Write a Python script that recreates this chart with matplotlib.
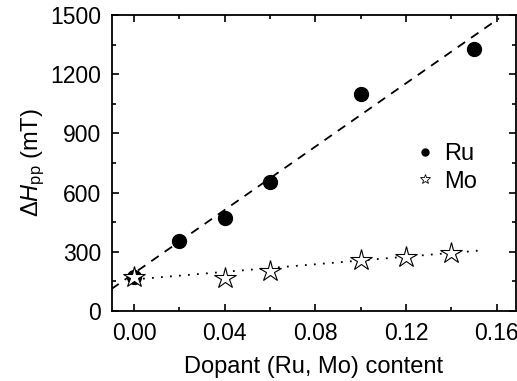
import matplotlib
matplotlib.use("Agg")
from matplotlib import pyplot as plt
from matplotlib.ticker import MultipleLocator

# data
ru_x = [0.0, 0.02, 0.04, 0.06, 0.10, 0.15]
ru_y = [170, 355, 470, 655, 1100, 1330]
mo_x = [0.0, 0.04, 0.06, 0.10, 0.12, 0.14]
mo_y = [170, 165, 205, 260, 275, 295]

# linear fits as drawn
ru_fit_x = [-0.01, 0.161]
ru_fit_y = [111, 1483]
mo_fit_x = [0.0, 0.152]
mo_fit_y = [160, 306]

plt.rcParams["font.family"] = ["Liberation Sans", "DejaVu Sans"]
plt.rcParams["mathtext.fontset"] = "custom"
plt.rcParams["mathtext.rm"] = "Liberation Sans"
plt.rcParams["mathtext.it"] = "Liberation Sans:italic"

fig = plt.figure(figsize=(5.17, 3.81), dpi=100)
ax = fig.add_axes([112 / 517, 1 - 311 / 381, (516 - 112) / 517, (311 - 15) / 381])

ax.plot(ru_fit_x, ru_fit_y, color="black", linestyle=(0, (5, 4)), linewidth=1.3)
ax.plot(mo_fit_x, mo_fit_y, color="black", linestyle=(0, (1, 4)), linewidth=1.3)
ax.plot(ru_x, ru_y, "o", color="black", markersize=10, linestyle="none")
ax.plot(mo_x, mo_y, "*", markerfacecolor="white", markeredgecolor="black",
        markersize=16, markeredgewidth=0.8, linestyle="none")

# small legend handles as in the original
h1, = ax.plot([], [], "o", color="black", markersize=5, label="Ru")
h2, = ax.plot([], [], "*", markerfacecolor="white", markeredgecolor="black",
              markersize=7, markeredgewidth=0.6, label="Mo")
ax.legend(handles=[h1, h2], loc="upper left", bbox_to_anchor=(0.693, 0.64),
          frameon=False, fontsize=17, handletextpad=0.3, labelspacing=0.25,
          handlelength=1.0)

ax.set_xlim(-0.0097, 0.1685)
ax.set_ylim(0, 1500)
ax.xaxis.set_major_locator(MultipleLocator(0.04))
ax.xaxis.set_minor_locator(MultipleLocator(0.02))
ax.yaxis.set_major_locator(MultipleLocator(300))
ax.yaxis.set_minor_locator(MultipleLocator(150))
ax.xaxis.set_major_formatter(plt.FuncFormatter(lambda v, p: f"{v:.2f}"))
ax.tick_params(which="both", direction="in", top=True, right=True,
               labelsize=16.5, width=1.2)
ax.tick_params(which="major", length=5, pad=8)
ax.tick_params(which="minor", length=3)
for s in ax.spines.values():
    s.set_linewidth(1.3)

ax.set_xlabel("Dopant (Ru, Mo) content", fontsize=17, labelpad=8)
ax.set_ylabel(r"$\Delta\mathit{H}_{\rm pp}$ (mT)", fontsize=17, labelpad=2)

fig.savefig("out.png", dpi=100)
